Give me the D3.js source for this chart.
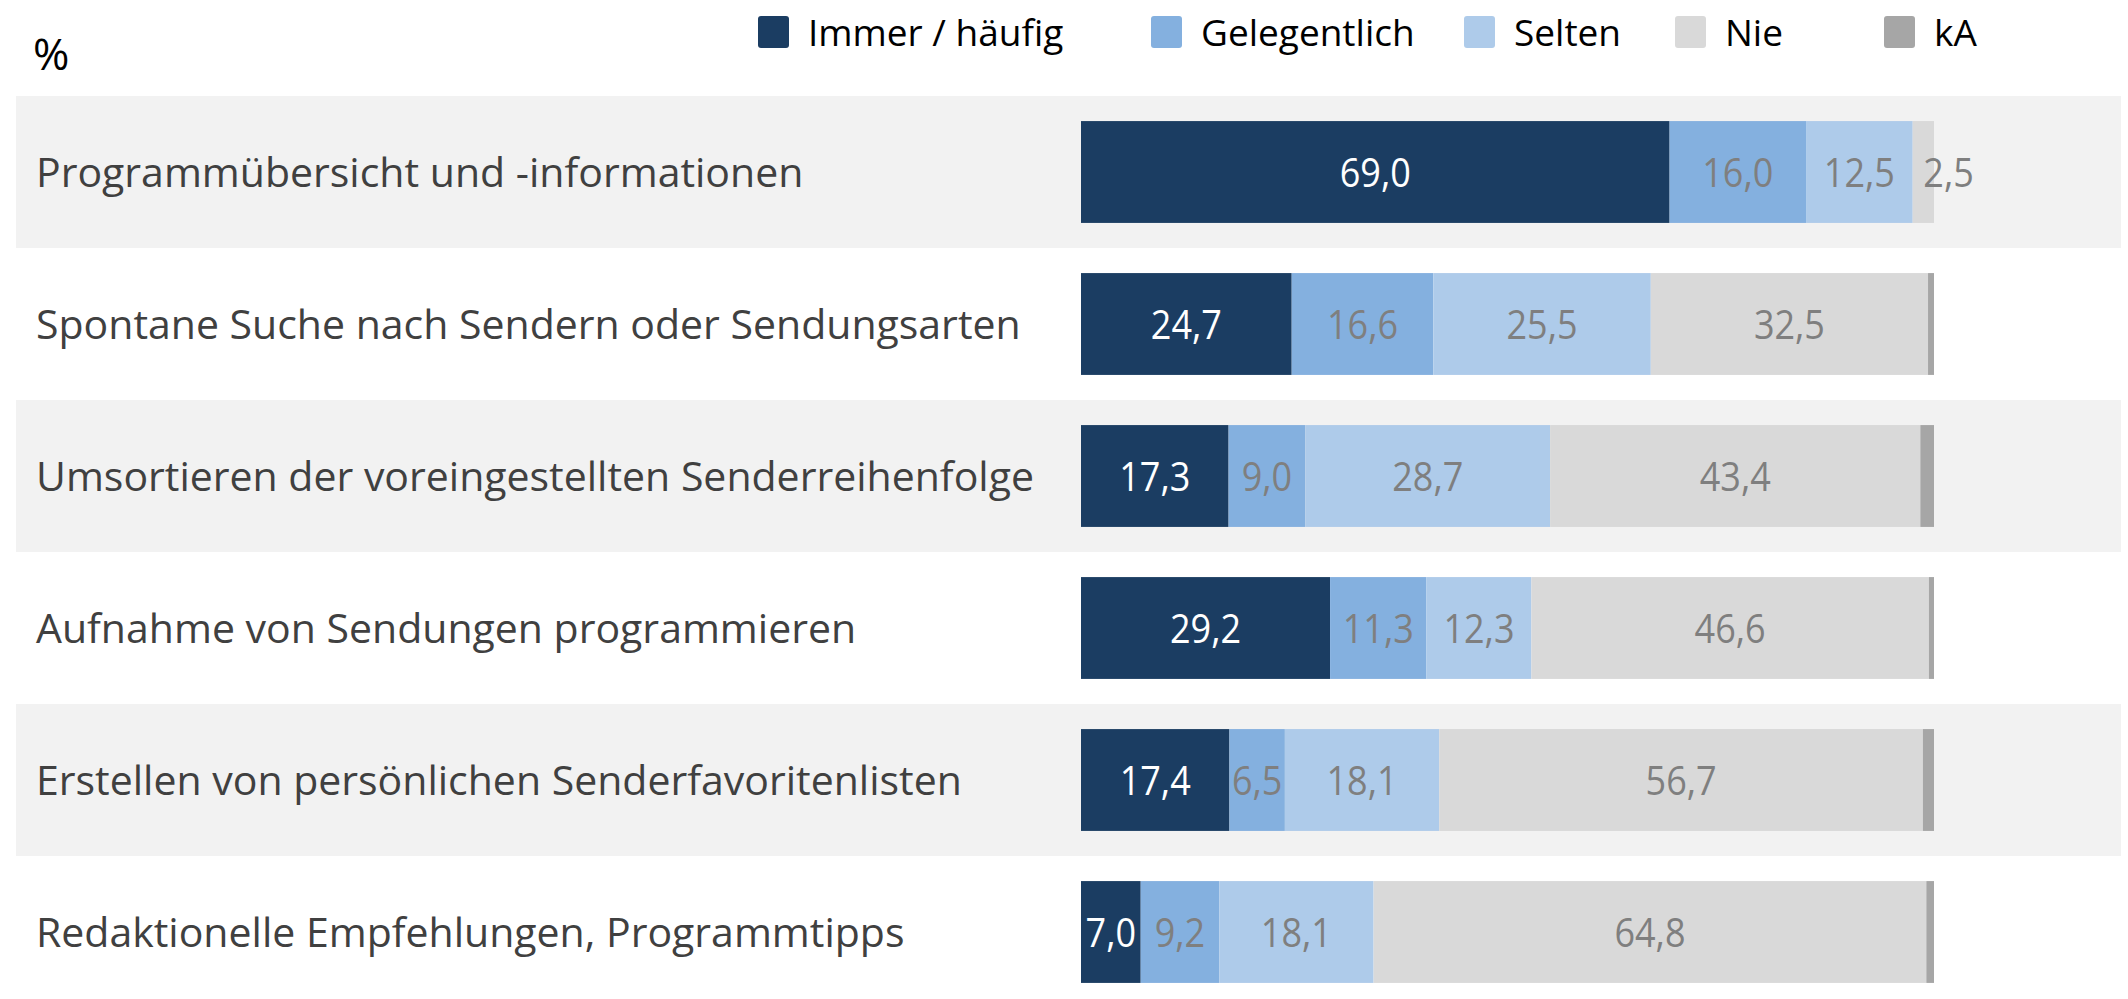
<!DOCTYPE html>
<html>
<head>
<meta charset="utf-8">
<script src="https://cdn.jsdelivr.net/npm/d3@7"></script>
<style>
  html, body { margin: 0; padding: 0; background: #fff; }
  svg { display: block; font-family: "Open Sans", sans-serif; }
</style>
</head>
<body>
<svg id="chart" width="2128" height="999"></svg>
<script>
// Data
const categories = [
  'Programmübersicht und -informationen',
  'Spontane Suche nach Sendern oder Sendungsarten',
  'Umsortieren der voreingestellten Senderreihenfolge',
  'Aufnahme von Sendungen programmieren',
  'Erstellen von persönlichen Senderfavoritenlisten',
  'Redaktionelle Empfehlungen, Programmtipps'
];
const seriesNames = ['Immer / häufig', 'Gelegentlich', 'Selten', 'Nie', 'kA'];
const immer = [69.0, 24.7, 17.3, 29.2, 17.4, 7.0];
const gelegentlich = [16.0, 16.6, 9.0, 11.3, 6.5, 9.2];
const selten = [12.5, 25.5, 28.7, 12.3, 18.1, 18.1];
const nie = [2.5, 32.5, 43.4, 46.6, 56.7, 64.8];
const kA = [0.0, 0.7, 1.6, 0.6, 1.3, 0.9];
const seriesValues = [immer, gelegentlich, selten, nie, kA];

const colors = ['#1b3d62', '#84b0df', '#aecbea', '#d9d9d9', '#a6a6a6'];
const labelColors = ['#ffffff', '#7f7f7f', '#7f7f7f', '#7f7f7f', '#7f7f7f'];

// Layout
const W = 2128, H = 999;
const svg = d3.select('#chart');

const rowY = d3.scaleBand()
  .domain(categories)
  .range([96, 96 + 152 * categories.length])
  .padding(0);

const x = d3.scaleLinear().domain([0, 100]).range([1081, 1934]);
const barH = rowY.bandwidth() * 0.67;

// rows as records with stacked segments
const rows = categories.map((c, i) => {
  let acc = 0;
  const segs = seriesValues.map((vals, s) => {
    const seg = { cat: c, s, v: vals[i], x0: acc, x1: acc + vals[i] };
    acc += vals[i];
    return seg;
  });
  return { cat: c, i, segs };
});

// alternating background bands
svg.append('g').selectAll('rect')
  .data(rows.filter(r => r.i % 2 === 0))
  .join('rect')
  .attr('x', 16)
  .attr('width', W - 16 - 7)
  .attr('y', d => rowY(d.cat))
  .attr('height', rowY.bandwidth())
  .attr('fill', '#f2f2f2');

// category labels
svg.append('g').selectAll('text')
  .data(rows)
  .join('text')
  .attr('x', 36)
  .attr('y', d => rowY(d.cat) + rowY.bandwidth() / 2 + 15)
  .attr('font-size', 41)
  .attr('fill', '#404040')
  .text(d => d.cat);

// bars
const rowG = svg.append('g').selectAll('g')
  .data(rows)
  .join('g')
  .attr('transform', d => `translate(0,${rowY(d.cat) + (rowY.bandwidth() - barH) / 2})`);

rowG.selectAll('rect')
  .data(d => d.segs.filter(s => s.v > 0))
  .join('rect')
  .attr('x', d => x(d.x0))
  .attr('width', d => x(d.x1) - x(d.x0))
  .attr('y', 0)
  .attr('height', barH)
  .attr('fill', d => colors[d.s]);

// value labels (no labels for kA); very narrow segments get their label pushed right
rowG.selectAll('text')
  .data(d => d.segs.filter(s => s.s < 4 && s.v > 0))
  .join('text')
  .attr('transform', d => `translate(${(x(d.x0) + x(d.x1)) / 2},${barH / 2 + 15}) scale(0.9,1)`)
  .attr('text-anchor', d => d.v < 4 ? 'start' : 'middle')
  .attr('font-size', 40)
  .attr('fill', d => labelColors[d.s])
  .text(d => d3.format('.1f')(d.v).replace('.', ','));

// unit label
svg.append('text')
  .attr('x', 33)
  .attr('y', 70)
  .attr('font-size', 44)
  .attr('fill', '#000')
  .text('%');

// legend
const legendX = [758, 1151, 1464, 1675, 1884];
const leg = svg.append('g').selectAll('g')
  .data(seriesNames)
  .join('g')
  .attr('transform', (d, i) => `translate(${legendX[i]},16)`);

leg.append('rect')
  .attr('width', 31)
  .attr('height', 32)
  .attr('rx', 3)
  .attr('fill', (d, i) => colors[i]);

leg.append('text')
  .attr('x', 50)
  .attr('y', 30)
  .attr('font-size', 37)
  .attr('fill', '#000')
  .text(d => d);
</script>
</body>
</html>
